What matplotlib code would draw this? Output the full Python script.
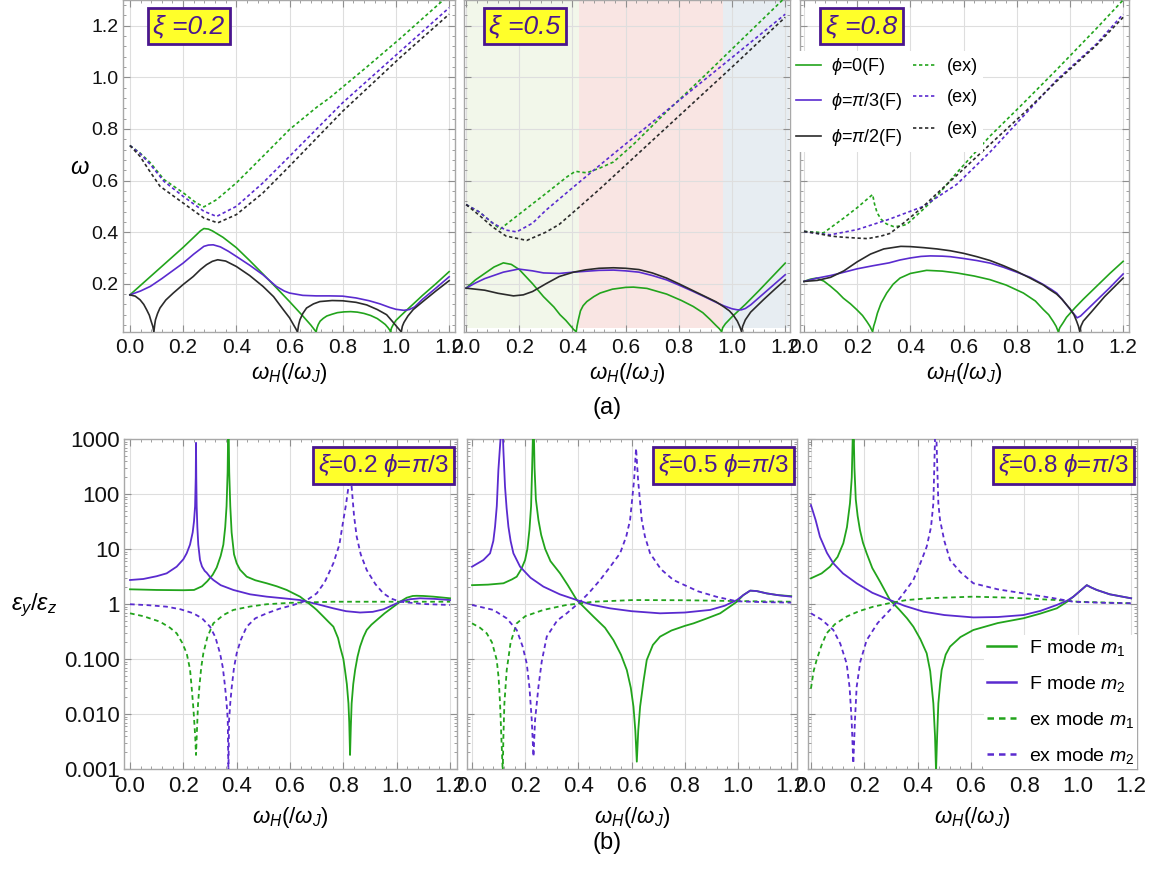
import matplotlib
matplotlib.use("Agg")
import matplotlib.pyplot as plt
from matplotlib.lines import Line2D
from matplotlib.ticker import AutoMinorLocator, LogLocator, NullFormatter

plt.rcParams["font.family"] = ["Liberation Sans", "DejaVu Sans"]
plt.rcParams["mathtext.fontset"] = "custom"
plt.rcParams["mathtext.rm"] = "Liberation Sans"
plt.rcParams["mathtext.it"] = "Liberation Sans:italic"
plt.rcParams["mathtext.bf"] = "Liberation Sans:bold"

# ---------------- (a) dispersion, xi = 0.2
a02_F0_x = [0.0, 0.05, 0.10, 0.15, 0.20, 0.25, 0.265, 0.278, 0.295, 0.31, 0.35, 0.40, 0.45, 0.50, 0.55, 0.60, 0.65, 0.68, 0.695, 0.70, 0.703, 0.708, 0.715, 0.727, 0.74, 0.76, 0.78, 0.805, 0.83, 0.855, 0.88, 0.905, 0.93, 0.95, 0.96, 0.97, 0.977, 0.98, 0.983, 0.99, 1.00, 1.02, 1.05, 1.10, 1.15, 1.20]
a02_F0_y = [0.157, 0.203, 0.249, 0.295, 0.341, 0.390, 0.405, 0.414, 0.412, 0.405, 0.380, 0.340, 0.290, 0.238, 0.185, 0.131, 0.075, 0.040, 0.020, 0.013, 0.028, 0.042, 0.055, 0.066, 0.075, 0.082, 0.088, 0.091, 0.092, 0.090, 0.085, 0.077, 0.065, 0.050, 0.042, 0.030, 0.020, 0.013, 0.028, 0.042, 0.058, 0.078, 0.107, 0.155, 0.200, 0.247]
a02_F3_x = [0.0, 0.04, 0.077, 0.12, 0.16, 0.20, 0.24, 0.278, 0.295, 0.313, 0.34, 0.37, 0.40, 0.45, 0.50, 0.55, 0.58, 0.60, 0.65, 0.70, 0.75, 0.80, 0.85, 0.90, 0.94, 0.977, 1.00, 1.03, 1.05, 1.07, 1.10, 1.15, 1.20]
a02_F3_y = [0.157, 0.172, 0.190, 0.220, 0.250, 0.280, 0.315, 0.345, 0.350, 0.351, 0.343, 0.326, 0.306, 0.272, 0.235, 0.190, 0.172, 0.164, 0.155, 0.153, 0.153, 0.152, 0.145, 0.134, 0.122, 0.108, 0.101, 0.097, 0.100, 0.110, 0.140, 0.183, 0.227]
a02_F2_x = [0.0, 0.02, 0.038, 0.052, 0.063, 0.073, 0.08, 0.086, 0.09, 0.093, 0.096, 0.104, 0.113, 0.135, 0.163, 0.20, 0.238, 0.265, 0.288, 0.31, 0.33, 0.36, 0.40, 0.45, 0.50, 0.54, 0.577, 0.60, 0.615, 0.624, 0.63, 0.634, 0.639, 0.65, 0.664, 0.69, 0.714, 0.76, 0.80, 0.85, 0.89, 0.93, 0.965, 0.99, 1.003, 1.013, 1.02, 1.024, 1.03, 1.045, 1.065, 1.10, 1.15, 1.20]
a02_F2_y = [0.157, 0.152, 0.138, 0.120, 0.099, 0.078, 0.054, 0.035, 0.013, 0.040, 0.060, 0.085, 0.106, 0.137, 0.164, 0.197, 0.228, 0.255, 0.274, 0.287, 0.293, 0.288, 0.267, 0.232, 0.190, 0.150, 0.099, 0.068, 0.041, 0.025, 0.013, 0.040, 0.060, 0.085, 0.106, 0.122, 0.131, 0.135, 0.134, 0.128, 0.118, 0.100, 0.080, 0.050, 0.034, 0.022, 0.013, 0.035, 0.050, 0.075, 0.100, 0.130, 0.172, 0.212]
a02_E0_x = [0.0, 0.038, 0.077, 0.128, 0.20, 0.25, 0.278, 0.326, 0.40, 0.50, 0.60, 0.703, 0.75, 0.89, 1.015, 1.20]
a02_E0_y = [0.736, 0.707, 0.669, 0.604, 0.553, 0.513, 0.498, 0.526, 0.591, 0.694, 0.798, 0.885, 0.920, 1.040, 1.150, 1.320]
a02_E3_x = [0.0, 0.038, 0.077, 0.128, 0.20, 0.278, 0.326, 0.40, 0.50, 0.60, 0.80, 1.015, 1.20]
a02_E3_y = [0.736, 0.705, 0.662, 0.597, 0.539, 0.481, 0.461, 0.500, 0.591, 0.694, 0.902, 1.100, 1.270]
a02_E2_x = [0.0, 0.038, 0.07, 0.113, 0.20, 0.278, 0.33, 0.40, 0.50, 0.60, 0.80, 1.015, 1.20]
a02_E2_y = [0.736, 0.694, 0.643, 0.578, 0.513, 0.455, 0.436, 0.468, 0.552, 0.656, 0.869, 1.076, 1.245]

# ---------------- (a) xi = 0.5
a05_F0_x = [0.0, 0.035, 0.07, 0.105, 0.14, 0.17, 0.20, 0.25, 0.291, 0.33, 0.353, 0.375, 0.39, 0.405, 0.414, 0.417, 0.422, 0.43, 0.44, 0.454, 0.48, 0.504, 0.55, 0.60, 0.629, 0.68, 0.754, 0.81, 0.854, 0.89, 0.917, 0.94, 0.952, 0.961, 0.965, 0.975, 1.00, 1.05, 1.10, 1.15, 1.20]
a05_F0_y = [0.183, 0.215, 0.240, 0.265, 0.281, 0.275, 0.255, 0.200, 0.150, 0.110, 0.080, 0.058, 0.040, 0.022, 0.014, 0.035, 0.060, 0.095, 0.115, 0.131, 0.150, 0.164, 0.179, 0.186, 0.187, 0.182, 0.160, 0.135, 0.112, 0.088, 0.062, 0.038, 0.026, 0.014, 0.030, 0.045, 0.072, 0.120, 0.172, 0.226, 0.280]
a05_F3_x = [0.0, 0.035, 0.07, 0.14, 0.197, 0.25, 0.291, 0.35, 0.404, 0.50, 0.554, 0.60, 0.65, 0.70, 0.754, 0.80, 0.85, 0.90, 0.94, 0.97, 1.00, 1.02, 1.035, 1.05, 1.07, 1.10, 1.15, 1.20]
a05_F3_y = [0.183, 0.203, 0.220, 0.245, 0.257, 0.250, 0.242, 0.240, 0.245, 0.252, 0.253, 0.250, 0.245, 0.232, 0.215, 0.195, 0.172, 0.148, 0.128, 0.114, 0.103, 0.099, 0.099, 0.104, 0.118, 0.145, 0.190, 0.235]
a05_F2_x = [0.0, 0.07, 0.12, 0.178, 0.215, 0.25, 0.30, 0.35, 0.404, 0.45, 0.50, 0.554, 0.60, 0.65, 0.70, 0.754, 0.80, 0.85, 0.90, 0.94, 0.97, 0.99, 1.005, 1.02, 1.03, 1.036, 1.04, 1.05, 1.07, 1.12, 1.16, 1.20]
a05_F2_y = [0.183, 0.175, 0.163, 0.153, 0.157, 0.170, 0.200, 0.228, 0.245, 0.254, 0.260, 0.262, 0.260, 0.255, 0.242, 0.222, 0.200, 0.175, 0.150, 0.130, 0.110, 0.095, 0.078, 0.055, 0.032, 0.014, 0.035, 0.060, 0.090, 0.140, 0.178, 0.215]
a05_E0_x = [0.0, 0.05, 0.10, 0.128, 0.20, 0.30, 0.38, 0.411, 0.43, 0.454, 0.504, 0.554, 0.629, 0.754, 0.90, 1.05, 1.20]
a05_E0_y = [0.507, 0.478, 0.435, 0.412, 0.470, 0.550, 0.615, 0.636, 0.633, 0.630, 0.649, 0.672, 0.740, 0.867, 1.010, 1.160, 1.310]
a05_E3_x = [0.0, 0.05, 0.10, 0.15, 0.19, 0.25, 0.30, 0.414, 0.55, 0.70, 0.85, 1.00, 1.20]
a05_E3_y = [0.507, 0.478, 0.435, 0.408, 0.401, 0.435, 0.485, 0.584, 0.700, 0.826, 0.952, 1.077, 1.245]
a05_E2_x = [0.0, 0.05, 0.10, 0.15, 0.228, 0.30, 0.35, 0.414, 0.50, 0.60, 0.70, 0.80, 0.90, 1.00, 1.10, 1.20]
a05_E2_y = [0.507, 0.465, 0.420, 0.385, 0.368, 0.400, 0.430, 0.487, 0.565, 0.660, 0.755, 0.850, 0.945, 1.040, 1.137, 1.233]

# ---------------- (a) xi = 0.8
a08_F0_x = [0.0, 0.025, 0.048, 0.075, 0.10, 0.125, 0.148, 0.175, 0.198, 0.22, 0.236, 0.248, 0.258, 0.262, 0.268, 0.276, 0.29, 0.311, 0.335, 0.361, 0.40, 0.461, 0.52, 0.574, 0.64, 0.699, 0.76, 0.825, 0.87, 0.90, 0.92, 0.937, 0.948, 0.956, 0.962, 0.975, 0.987, 1.02, 1.05, 1.10, 1.15, 1.20]
a08_F0_y = [0.209, 0.218, 0.222, 0.210, 0.190, 0.168, 0.144, 0.122, 0.100, 0.077, 0.054, 0.035, 0.014, 0.035, 0.055, 0.086, 0.125, 0.164, 0.198, 0.222, 0.240, 0.252, 0.249, 0.242, 0.230, 0.216, 0.195, 0.164, 0.133, 0.100, 0.080, 0.054, 0.035, 0.014, 0.030, 0.050, 0.070, 0.108, 0.140, 0.190, 0.240, 0.287]
a08_F3_x = [0.0, 0.05, 0.10, 0.14, 0.20, 0.26, 0.32, 0.36, 0.40, 0.44, 0.475, 0.52, 0.55, 0.60, 0.65, 0.70, 0.75, 0.80, 0.85, 0.90, 0.93, 0.95, 0.97, 0.99, 1.005, 1.015, 1.027, 1.04, 1.06, 1.10, 1.15, 1.20]
a08_F3_y = [0.209, 0.222, 0.232, 0.242, 0.258, 0.270, 0.281, 0.292, 0.300, 0.306, 0.308, 0.307, 0.305, 0.298, 0.290, 0.280, 0.264, 0.245, 0.225, 0.197, 0.178, 0.164, 0.140, 0.115, 0.095, 0.083, 0.068, 0.075, 0.095, 0.135, 0.185, 0.238]
a08_F2_x = [0.0, 0.05, 0.10, 0.15, 0.20, 0.25, 0.30, 0.364, 0.40, 0.45, 0.50, 0.55, 0.60, 0.65, 0.70, 0.75, 0.80, 0.85, 0.90, 0.92, 0.95, 0.97, 0.99, 1.00, 1.015, 1.025, 1.032, 1.037, 1.041, 1.05, 1.08, 1.13, 1.20]
a08_F2_y = [0.209, 0.213, 0.225, 0.250, 0.285, 0.315, 0.335, 0.345, 0.344, 0.340, 0.335, 0.328, 0.318, 0.305, 0.290, 0.270, 0.248, 0.222, 0.195, 0.180, 0.160, 0.140, 0.115, 0.103, 0.080, 0.055, 0.035, 0.014, 0.035, 0.055, 0.090, 0.150, 0.222]
a08_E0_x = [0.0, 0.048, 0.073, 0.15, 0.20, 0.258, 0.265, 0.275, 0.29, 0.31, 0.336, 0.36, 0.386, 0.45, 0.50, 0.574, 0.699, 0.825, 0.95, 1.10, 1.20]
a08_E0_y = [0.403, 0.400, 0.397, 0.455, 0.495, 0.546, 0.510, 0.475, 0.450, 0.432, 0.422, 0.423, 0.430, 0.490, 0.540, 0.630, 0.772, 0.900, 1.030, 1.190, 1.300]
a08_E3_x = [0.0, 0.05, 0.10, 0.20, 0.32, 0.449, 0.574, 0.699, 0.825, 0.95, 1.10, 1.20]
a08_E3_y = [0.403, 0.395, 0.390, 0.410, 0.450, 0.500, 0.585, 0.710, 0.850, 0.990, 1.130, 1.245]
a08_E2_x = [0.0, 0.05, 0.10, 0.14, 0.20, 0.24, 0.29, 0.323, 0.38, 0.449, 0.50, 0.574, 0.699, 0.825, 0.95, 1.10, 1.20]
a08_E2_y = [0.403, 0.395, 0.385, 0.381, 0.377, 0.375, 0.385, 0.395, 0.440, 0.500, 0.550, 0.620, 0.740, 0.860, 0.985, 1.125, 1.233]

# ---------------- (b) eps_y/eps_z, phi = pi/3, xi = 0.2
b02_F1_x = [0.0, 0.10, 0.20, 0.24, 0.27, 0.29, 0.31, 0.325, 0.34, 0.35, 0.357, 0.362, 0.366, 0.369, 0.372, 0.376, 0.381, 0.39, 0.40, 0.4125, 0.4375, 0.47, 0.5125, 0.55, 0.5875, 0.62, 0.6375, 0.6625, 0.69, 0.70, 0.725, 0.745, 0.7625, 0.78, 0.7875, 0.80, 0.806, 0.813, 0.819, 0.822, 0.825, 0.828, 0.831, 0.837, 0.844, 0.853, 0.8625, 0.875, 0.8875, 0.905, 0.925, 0.955, 0.9875, 1.0125, 1.0375, 1.06, 1.075, 1.10, 1.1375, 1.20]
b02_F1_y = [1.85, 1.8, 1.78, 1.8, 2.1, 2.6, 3.4, 4.6, 7.5, 12, 25, 60, 250, 3000, 250, 60, 20, 8, 5.5, 4.2, 3.14, 2.7, 2.38, 2.1, 1.8, 1.5, 1.36, 1.1, 0.86, 0.78, 0.59, 0.47, 0.387, 0.24, 0.168, 0.1, 0.063, 0.035, 0.0156, 0.007, 0.0018, 0.006, 0.0156, 0.035, 0.063, 0.11, 0.168, 0.25, 0.337, 0.42, 0.51, 0.68, 0.89, 1.1, 1.3, 1.4, 1.41, 1.4, 1.36, 1.27]
b02_F2_x = [0.0, 0.05, 0.10, 0.1375, 0.175, 0.20, 0.2125, 0.225, 0.235, 0.24, 0.244, 0.2465, 0.2475, 0.2485, 0.25, 0.2525, 0.256, 0.2625, 0.27, 0.28, 0.2875, 0.30, 0.3125, 0.34, 0.3875, 0.45, 0.5125, 0.575, 0.6375, 0.70, 0.7625, 0.81, 0.8625, 0.91, 0.95, 0.98, 1.0125, 1.05, 1.0875, 1.14, 1.20]
b02_F2_y = [2.73, 2.85, 3.2, 3.61, 4.77, 6.5, 8.35, 12, 20, 32, 60, 200, 850, 200, 60, 25, 12, 6.3, 4.8, 4.0, 3.7, 3.1, 2.73, 2.2, 1.8, 1.5, 1.36, 1.27, 1.18, 1.0, 0.834, 0.74, 0.70, 0.72, 0.80, 0.93, 1.1, 1.22, 1.27, 1.24, 1.18]
b02_E1_x = [0.0, 0.05, 0.1125, 0.15, 0.175, 0.195, 0.2125, 0.225, 0.231, 0.238, 0.2445, 0.2475, 0.251, 0.255, 0.26, 0.267, 0.275, 0.29, 0.3125, 0.35, 0.3875, 0.45, 0.5125, 0.60, 0.7625, 1.0, 1.2]
b02_E1_y = [0.677, 0.6, 0.477, 0.37, 0.293, 0.2, 0.127, 0.065, 0.031, 0.012, 0.0039, 0.0018, 0.005, 0.015, 0.031, 0.07, 0.127, 0.25, 0.445, 0.63, 0.78, 0.9, 0.99, 1.05, 1.1, 1.1, 1.1]
b02_E2_x = [0.0, 0.07, 0.1375, 0.19, 0.2375, 0.27, 0.30, 0.32, 0.3375, 0.348, 0.3565, 0.362, 0.3665, 0.369, 0.3715, 0.376, 0.3815, 0.39, 0.40, 0.415, 0.4375, 0.47, 0.5125, 0.56, 0.6125, 0.66, 0.70, 0.73, 0.7625, 0.785, 0.80, 0.81, 0.819, 0.825, 0.831, 0.84, 0.85, 0.865, 0.8875, 0.92, 0.95, 0.98, 1.0125, 1.10, 1.20]
b02_E2_y = [0.99, 0.95, 0.894, 0.8, 0.677, 0.55, 0.387, 0.25, 0.127, 0.07, 0.031, 0.016, 0.0078, 0.0009, 0.0078, 0.016, 0.031, 0.07, 0.127, 0.22, 0.387, 0.55, 0.677, 0.82, 0.96, 1.15, 1.56, 2.5, 5.5, 12, 33.7, 65, 135, 400, 135, 40, 16.7, 8, 4.15, 2.3, 1.56, 1.25, 1.1, 1.0, 0.96]

# ---------------- (b) xi = 0.5
b05_F1_x = [0.0, 0.06, 0.118, 0.15, 0.168, 0.185, 0.1994, 0.208, 0.2157, 0.222, 0.2257, 0.231, 0.235, 0.24, 0.2496, 0.26, 0.275, 0.295, 0.331, 0.36, 0.394, 0.4566, 0.50, 0.5318, 0.56, 0.582, 0.597, 0.607, 0.614, 0.6196, 0.625, 0.632, 0.645, 0.657, 0.68, 0.707, 0.75, 0.80, 0.833, 0.88, 0.933, 0.97, 0.996, 1.02, 1.046, 1.07, 1.108, 1.15, 1.20]
b05_F1_y = [2.2, 2.25, 2.38, 2.8, 3.14, 4.3, 6.3, 10, 22, 60, 272, 3000, 300, 80, 33.7, 18, 10, 6, 3.61, 2.2, 1.18, 0.59, 0.37, 0.22, 0.12, 0.063, 0.03, 0.0136, 0.005, 0.00136, 0.005, 0.0136, 0.04, 0.096, 0.18, 0.255, 0.33, 0.4, 0.445, 0.54, 0.677, 0.9, 1.1, 1.45, 1.75, 1.72, 1.56, 1.45, 1.39]
b05_F2_x = [0.0, 0.0426, 0.0677, 0.08, 0.0865, 0.093, 0.099, 0.107, 0.113, 0.118, 0.124, 0.13, 0.1367, 0.145, 0.1555, 0.1806, 0.22, 0.2683, 0.33, 0.394, 0.45, 0.519, 0.60, 0.707, 0.80, 0.895, 0.95, 0.996, 1.02, 1.046, 1.07, 1.108, 1.15, 1.20]
b05_F2_y = [4.77, 6.3, 8.35, 14, 25.5, 60, 272, 1000, 3000, 600, 135, 55, 25.5, 14, 8.35, 4.77, 3.0, 2.07, 1.5, 1.18, 0.97, 0.834, 0.74, 0.677, 0.7, 0.78, 0.93, 1.18, 1.45, 1.75, 1.72, 1.56, 1.45, 1.36]
b05_E1_x = [0.0, 0.03, 0.0552, 0.075, 0.0928, 0.10, 0.1053, 0.11, 0.1154, 0.118, 0.1216, 0.1304, 0.145, 0.168, 0.20, 0.2683, 0.35, 0.4566, 0.607, 0.80, 1.0, 1.2]
b05_E1_y = [0.445, 0.37, 0.293, 0.2, 0.096, 0.045, 0.0156, 0.004, 0.0009, 0.004, 0.0156, 0.063, 0.2, 0.445, 0.6, 0.78, 0.95, 1.1, 1.18, 1.17, 1.13, 1.1]
b05_E2_x = [0.0, 0.0803, 0.13, 0.168, 0.19, 0.2056, 0.216, 0.2245, 0.231, 0.237, 0.2496, 0.262, 0.2809, 0.32, 0.3561, 0.38, 0.4063, 0.44, 0.4815, 0.52, 0.5567, 0.58, 0.5943, 0.6093, 0.6168, 0.6244, 0.6381, 0.65, 0.6695, 0.71, 0.7573, 0.85, 0.92, 0.996, 1.10, 1.20]
b05_E2_y = [0.96, 0.78, 0.55, 0.337, 0.17, 0.083, 0.03, 0.0078, 0.00168, 0.0078, 0.031, 0.09, 0.255, 0.5, 0.677, 0.85, 1.1, 1.6, 2.73, 4.8, 8.35, 17, 33.7, 179, 676, 179, 33.7, 17, 8.35, 4.3, 2.73, 1.7, 1.35, 1.12, 1.08, 1.06]

# ---------------- (b) xi = 0.8
b08_F1_x = [0.0, 0.04, 0.0713, 0.10, 0.1213, 0.135, 0.1463, 0.153, 0.1588, 0.163, 0.168, 0.175, 0.1838, 0.195, 0.2088, 0.23, 0.26, 0.2963, 0.33, 0.36, 0.3838, 0.41, 0.4338, 0.447, 0.4588, 0.465, 0.4688, 0.473, 0.4775, 0.484, 0.49, 0.505, 0.5213, 0.56, 0.6088, 0.70, 0.7963, 0.86, 0.9213, 0.96, 0.9838, 1.01, 1.0338, 1.05, 1.0713, 1.12, 1.20]
b08_F1_y = [2.93, 3.6, 4.77, 7.2, 12.7, 25, 67.8, 200, 3000, 300, 80, 40, 22, 13, 8.35, 4.5, 2.5, 1.18, 0.8, 0.55, 0.387, 0.23, 0.127, 0.06, 0.0156, 0.004, 0.0009, 0.004, 0.0156, 0.035, 0.063, 0.12, 0.168, 0.25, 0.337, 0.45, 0.55, 0.67, 0.834, 1.1, 1.36, 1.75, 2.2, 2.0, 1.8, 1.5, 1.27]
b08_F2_x = [0.0, 0.0175, 0.0338, 0.06, 0.0838, 0.12, 0.1713, 0.23, 0.2963, 0.35, 0.4213, 0.50, 0.6088, 0.70, 0.7963, 0.86, 0.9213, 0.96, 0.9838, 1.01, 1.0338, 1.05, 1.0713, 1.12, 1.20]
b08_F2_y = [63, 33.7, 16.7, 8.5, 5.5, 3.6, 2.38, 1.6, 1.18, 0.93, 0.726, 0.63, 0.57, 0.58, 0.63, 0.75, 0.96, 1.15, 1.36, 1.75, 2.2, 2.0, 1.8, 1.5, 1.27]
b08_E1_x = [0.0, 0.01, 0.0213, 0.04, 0.0588, 0.09, 0.1338, 0.18, 0.2338, 0.30, 0.3588, 0.45, 0.6088, 0.75, 0.9213, 1.0, 1.2]
b08_E1_y = [0.029, 0.06, 0.096, 0.18, 0.293, 0.43, 0.59, 0.74, 0.894, 1.05, 1.18, 1.28, 1.36, 1.3, 1.18, 1.1, 1.03]
b08_E2_x = [0.0, 0.04, 0.0838, 0.11, 0.1338, 0.145, 0.1525, 0.1588, 0.165, 0.1713, 0.185, 0.2088, 0.25, 0.2963, 0.34, 0.3838, 0.41, 0.4338, 0.45, 0.4588, 0.4675, 0.4775, 0.4838, 0.50, 0.5213, 0.56, 0.6088, 0.70, 0.7963, 0.90, 0.9838, 1.10, 1.20]
b08_E2_y = [0.677, 0.52, 0.337, 0.19, 0.083, 0.03, 0.0078, 0.00126, 0.0078, 0.031, 0.09, 0.22, 0.45, 0.78, 1.4, 2.73, 5.5, 11, 25, 67.8, 3000, 67.8, 33.7, 14, 6.3, 3.8, 2.38, 1.85, 1.56, 1.3, 1.1, 1.05, 1.03]

xi_labels = ["ξ =0.2", "ξ =0.5", "ξ =0.8"]
xi_phi_labels = [r"$\xi$=0.2 $\phi$=$\pi$/3", r"$\xi$=0.5 $\phi$=$\pi$/3", r"$\xi$=0.8 $\phi$=$\pi$/3"]
top_legend = [r"$\phi$=0(F)", r"$\phi$=$\pi$/3(F)", r"$\phi$=$\pi$/2(F)", "(ex)", "(ex)", "(ex)"]
bot_legend = [r"F mode $m_1$", r"F mode $m_2$", r"ex mode $m_1$", r"ex mode $m_2$"]
x_ticks = [0.0, 0.2, 0.4, 0.6, 0.8, 1.0, 1.2]
y_ticks_top = [0.2, 0.4, 0.6, 0.8, 1.0, 1.2]
y_ticks_bot = [0.001, 0.01, 0.1, 1, 10, 100, 1000]
y_ticklabels_bot = ["0.001", "0.010", "0.100", "1", "10", "100", "1000"]
# shaded regimes in the xi = 0.5 panel
regions = [(0.0, 0.423), (0.423, 0.966), (0.966, 1.215)]

GREEN = "#22a41c"
PURPLE = "#5a2bcf"
BLACK = "#2b2b2b"
BOXC = "#4a168f"
region_colors = ["#f2f7ea", "#f9e5e3", "#e7edf2"]

W, H = 1166, 869
fig = plt.figure(figsize=(W / 100, H / 100), dpi=100)


def add_ax(l, t, r, b):
    return fig.add_axes([l / W, 1 - b / H, (r - l) / W, (b - t) / H])


def frame(ax, xlim, fs):
    ax.set_xlim(*xlim)
    for s in ax.spines.values():
        s.set_color("#a8a8a8")
        s.set_linewidth(1.0)
    ax.set_xticks(x_ticks, ["%.1f" % v for v in x_ticks])
    ax.xaxis.set_minor_locator(AutoMinorLocator(5))
    ax.tick_params(which="both", direction="in", top=True, right=True,
                   color="#8f8f8f", labelcolor="#111111", labelsize=fs)
    ax.tick_params(which="major", length=5, width=0.8)
    ax.tick_params(which="minor", length=2.5, width=0.6)
    ax.grid(True, which="major", color="#dedede", lw=0.8)
    ax.set_axisbelow(True)


top_data = [
    (a02_F0_x, a02_F0_y, a02_F3_x, a02_F3_y, a02_F2_x, a02_F2_y,
     a02_E0_x, a02_E0_y, a02_E3_x, a02_E3_y, a02_E2_x, a02_E2_y),
    (a05_F0_x, a05_F0_y, a05_F3_x, a05_F3_y, a05_F2_x, a05_F2_y,
     a05_E0_x, a05_E0_y, a05_E3_x, a05_E3_y, a05_E2_x, a05_E2_y),
    (a08_F0_x, a08_F0_y, a08_F3_x, a08_F3_y, a08_F2_x, a08_F2_y,
     a08_E0_x, a08_E0_y, a08_E3_x, a08_E3_y, a08_E2_x, a08_E2_y),
]
bot_data = [
    (b02_F1_x, b02_F1_y, b02_F2_x, b02_F2_y, b02_E1_x, b02_E1_y, b02_E2_x, b02_E2_y),
    (b05_F1_x, b05_F1_y, b05_F2_x, b05_F2_y, b05_E1_x, b05_E1_y, b05_E2_x, b05_E2_y),
    (b08_F1_x, b08_F1_y, b08_F2_x, b08_F2_y, b08_E1_x, b08_E1_y, b08_E2_x, b08_E2_y),
]

# pixel boxes (left, top, right, bottom) and x-limits
top_boxes = [(123, 0, 455, 332), (464, 0, 790, 332), (800, 0, 1129, 332)]
top_xlims = [(-0.026, 1.222), (-0.008, 1.218), (-0.015, 1.222)]
bot_boxes = [(124, 439, 457, 769), (467, 439, 797, 769), (808, 439, 1137, 769)]
bot_xlims = [(-0.0225, 1.226), (-0.019, 1.222), (-0.011, 1.222)]

top_dash = (0, (2.0, 1.6))
bot_dash = (0, (2.6, 2.0))

top_axes = []
for i, (box, xl, d) in enumerate(zip(top_boxes, top_xlims, top_data)):
    ax = add_ax(*box)
    frame(ax, xl, 15)
    ax.set_ylim(0.013, 1.3)
    ax.set_yticks(y_ticks_top, ["%.1f" % v for v in y_ticks_top])
    ax.yaxis.set_minor_locator(AutoMinorLocator(5))
    ax.tick_params(axis="y", labelsize=14, pad=3)
    ax.tick_params(axis="x", pad=4)
    if i > 0:
        ax.tick_params(labelleft=False)
    if i == 1:
        for (r0, r1), c in zip(regions, region_colors):
            ax.axvspan(r0, r1, ymin=0.012, ymax=1, color=c, lw=0, zorder=0)
    cols = [GREEN, PURPLE, BLACK]
    for k in range(3):
        ax.plot(d[2 * k], d[2 * k + 1], color=cols[k], lw=1.2, zorder=3)
    for k in range(3):
        ax.plot(d[6 + 2 * k], d[7 + 2 * k], color=cols[k], lw=1.2, ls=top_dash, zorder=3)
    top_axes.append(ax)

# legend of panel xi = 0.8
handles = [Line2D([], [], color=c, lw=1.2) for c in (GREEN, PURPLE, BLACK)] + \
          [Line2D([], [], color=c, lw=1.2, ls=top_dash) for c in (GREEN, PURPLE, BLACK)]
leg = top_axes[2].legend(handles, top_legend, ncol=2, loc="upper left",
                         bbox_to_anchor=(-0.025, 0.845), fontsize=13,
                         handlelength=1.35, handletextpad=0.55, columnspacing=0.6,
                         labelspacing=0.8, borderpad=0.25, borderaxespad=0,
                         frameon=True, fancybox=False)
leg.get_frame().set_facecolor("white")
leg.get_frame().set_edgecolor("none")
leg.get_frame().set_alpha(1)

bot_axes = []
for i, (box, xl, d) in enumerate(zip(bot_boxes, bot_xlims, bot_data)):
    ax = add_ax(*box)
    ax.set_yscale("log")
    frame(ax, xl, 16)
    ax.set_ylim(0.001, 1000)
    ax.set_yticks(y_ticks_bot, y_ticklabels_bot)
    ax.yaxis.set_minor_locator(LogLocator(base=10, subs=range(2, 10), numticks=20))
    ax.yaxis.set_minor_formatter(NullFormatter())
    ax.tick_params(axis="y", pad=3)
    ax.tick_params(axis="x", pad=5)
    if i > 0:
        ax.tick_params(labelleft=False)
    ax.plot(d[0], d[1], color=GREEN, lw=1.3, zorder=3)
    ax.plot(d[2], d[3], color=PURPLE, lw=1.3, zorder=3)
    ax.plot(d[4], d[5], color=GREEN, lw=1.3, ls=bot_dash, zorder=3)
    ax.plot(d[6], d[7], color=PURPLE, lw=1.3, ls=bot_dash, zorder=3)
    bot_axes.append(ax)

handles_b = [Line2D([], [], color=GREEN, lw=1.8), Line2D([], [], color=PURPLE, lw=1.8),
             Line2D([], [], color=GREEN, lw=1.8, ls=bot_dash),
             Line2D([], [], color=PURPLE, lw=1.8, ls=bot_dash)]
legb = bot_axes[2].legend(handles_b, bot_legend, loc="lower right",
                          bbox_to_anchor=(1.0, 0.0), fontsize=14,
                          handlelength=1.5, handletextpad=0.65, labelspacing=0.82,
                          borderpad=0.15, borderaxespad=0, frameon=True, fancybox=False)
legb.get_frame().set_facecolor("white")
legb.get_frame().set_edgecolor("none")
legb.get_frame().set_alpha(1)

# labels
for box, ax in zip(top_boxes, top_axes):
    fig.text((box[0] + box[2]) / 2 / W, 1 - 373 / H, r"$\omega_H(/\omega_J)$",
             ha="center", va="center", fontsize=16)
for box in bot_boxes:
    fig.text((box[0] + box[2]) / 2 / W, 1 - 817 / H, r"$\omega_H(/\omega_J)$",
             ha="center", va="center", fontsize=16)
fig.text(80 / W, 1 - 168 / H, r"$\omega$", ha="center", va="center", fontsize=17)
fig.text(34 / W, 1 - 605 / H, r"$\epsilon_y/\epsilon_z$", ha="center", va="center", fontsize=17)
fig.text(607 / W, 1 - 408 / H, "(a)", ha="center", va="center", fontsize=17)
fig.text(607 / W, 1 - 843 / H, "(b)", ha="center", va="center", fontsize=17)

box_style = dict(boxstyle="square,pad=0.22", fc="#ffff2a", ec=BOXC, lw=2)
for (cx, cy), s in zip([(189, 26), (525, 26), (861.5, 26)], xi_labels):
    fig.text(cx / W, 1 - cy / H, s, ha="center", va="center", fontsize=19,
             style="italic", color=BOXC, bbox=box_style, zorder=10)
for (cx, cy), s in zip([(383.5, 465.5), (723.5, 465.5), (1063.5, 465.5)], xi_phi_labels):
    fig.text(cx / W, 1 - cy / H, s, ha="center", va="center", fontsize=17.5,
             color=BOXC, bbox=box_style, zorder=10)

fig.savefig("out.png", dpi=100)
